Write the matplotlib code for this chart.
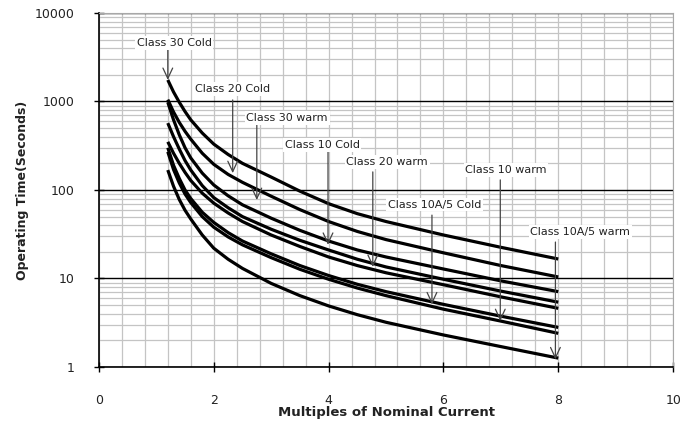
"""
Overload relay trip curves, operating time vs multiples of nominal current.
"""
import numpy as np
import matplotlib.pyplot as plt

# multiples of nominal current where values were read
current = [1.2, 1.3, 1.4, 1.5, 1.6, 1.8, 2.0, 2.25, 2.5, 3.0, 3.5, 4.0, 4.5, 5.0, 6.0, 7.0, 8.0]

# operating times (s), top curve to bottom curve
curve1 = [1750, 1280, 980, 770, 620, 440, 330, 252, 200, 140, 97, 70, 54, 44, 31, 22.5, 16.6]
curve2 = [1050, 760, 580, 460, 375, 260, 195, 150, 122, 85, 60, 44, 34, 27.5, 19.5, 14, 10.4]
curve3 = [980, 620, 420, 300, 230, 155, 114, 86, 68, 48, 35, 26.5, 21, 17.5, 12.8, 9.4, 7.1]
curve4 = [570, 400, 290, 215, 168, 112, 82, 63, 50, 36, 27, 21, 16.5, 13.5, 9.8, 7.2, 5.4]
curve5 = [350, 260, 200, 158, 128, 92, 71, 55, 44, 31, 23, 17.5, 14, 11.6, 8.5, 6.2, 4.6]
curve6 = [300, 190, 135, 100, 80, 56, 43, 33, 26.5, 19, 14, 10.8, 8.6, 7.1, 5.1, 3.75, 2.8]
curve7 = [270, 170, 120, 90, 72, 50, 38, 29.5, 24, 17.2, 12.7, 9.8, 7.8, 6.4, 4.5, 3.3, 2.4]
curve8 = [168, 110, 78, 59, 47, 31, 22, 16.5, 13, 8.8, 6.4, 4.9, 3.9, 3.2, 2.3, 1.7, 1.26]
curves = [curve1, curve2, curve3, curve4, curve5, curve6, curve7, curve8]

labels = ['Class 30 Cold', 'Class 20 Cold', 'Class 30 warm', 'Class 10 Cold',
          'Class 20 warm', 'Class 10 warm', 'Class 10A/5 Cold', 'Class 10A/5 warm']
# (text x, text y, arrow x, arrow start y, arrow tip y)
label_pos = [(1.31, 4580, 1.20, 3820, 1750),
             (2.33, 1384, 2.33, 1040, 155),
             (3.28, 651, 2.75, 542, 77),
             (3.89, 322, 3.99, 269, 24),
             (5.02, 207, 4.77, 160, 13.5),
             (7.09, 168, 6.99, 130, 3.3),
             (5.84, 68, 5.80, 52, 5.1),
             (8.38, 33.5, 7.95, 25.8, 1.22)]

xticks = [0, 2, 4, 6, 8, 10]
yticks = [1, 10, 100, 1000, 10000]

fig = plt.figure(figsize=(6.82, 4.25), dpi=100)
ax = fig.add_axes([0.145, 0.1365, 0.842, 0.833])

ax.set_yscale('log')
ax.set_xlim(0, 10)
ax.set_ylim(1, 10000)

# grid
ax.set_xticks(xticks)
ax.set_xticks(np.arange(0, 10.01, 0.4), minor=True)
ax.set_xticklabels([str(t) for t in xticks], fontsize=9, color='#222222')
ax.set_yticks(yticks)
ax.set_yticklabels([str(t) for t in yticks], fontsize=9, color='#222222')
ax.grid(axis='x', which='both', color='#c4c4c4', linewidth=0.9, zorder=0)
ax.grid(axis='y', which='minor', color='#c4c4c4', linewidth=0.9, zorder=0)
ax.grid(axis='y', which='major', color='black', linewidth=1.0, zorder=0)
ax.set_axisbelow(True)

ax.tick_params(axis='x', which='major', direction='inout', length=7, width=1, pad=16)
ax.tick_params(axis='x', which='minor', length=0)
ax.tick_params(axis='y', which='major', direction='inout', length=7, width=1, pad=14)
ax.tick_params(axis='y', which='minor', length=0)

for s in ['top', 'right']:
    ax.spines[s].set_color('#a8a8a8')
for s in ['left', 'bottom']:
    ax.spines[s].set_color('black')
    ax.spines[s].set_linewidth(1.2)

for c in curves:
    ax.plot(current, c, color='black', linewidth=2.3, solid_capstyle='butt',
            solid_joinstyle='round', zorder=3)

for lbl, (tx, ty, ax_x, ay0, ay1) in zip(labels, label_pos):
    ax.annotate('', xy=(ax_x, ay1), xytext=(ax_x, ay0),
                arrowprops=dict(arrowstyle='->,head_length=0.75,head_width=0.35',
                                color='#444444', lw=0.9, shrinkA=0, shrinkB=0),
                zorder=4)
    ax.text(tx, ty, lbl, fontsize=8, ha='center', va='center', color='#222222',
            bbox=dict(facecolor='white', edgecolor='none', pad=1.2), zorder=5)

ax.set_xlabel('Multiples of Nominal Current', fontsize=9.5, fontweight='bold',
              color='#222222', labelpad=-1)
ax.set_ylabel('Operating Time(Seconds)', fontsize=9, fontweight='bold',
              color='#222222', labelpad=4)

plt.savefig('out.png', dpi=100)
